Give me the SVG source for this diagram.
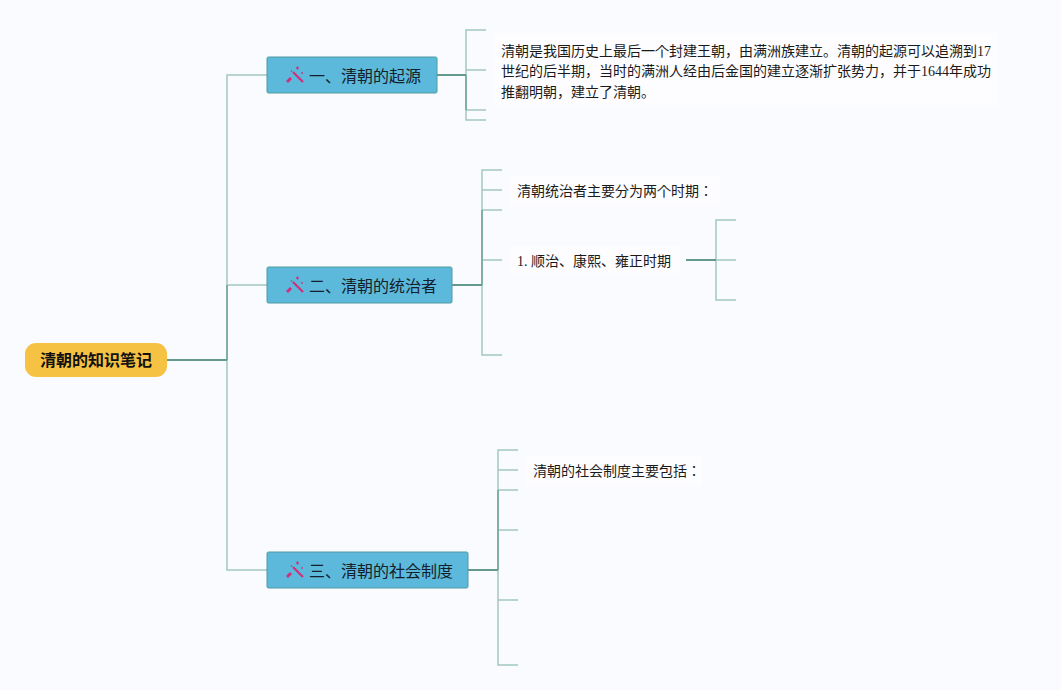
<svg xmlns="http://www.w3.org/2000/svg" width="1061" height="690" viewBox="0 0 1061 690">
<style>
text{font-family:"Liberation Serif","Noto Sans CJK JP",sans-serif;fill:#1a1a1a}
.body{font-size:14px}
.topic{font-size:16px;font-family:"Noto Sans CJK JP","Liberation Sans",sans-serif;fill:#14202a}
.root{font-size:16px;font-weight:700;font-family:"Noto Sans CJK JP","Liberation Sans",sans-serif;fill:#111}
.lt{fill:none;stroke:#a3c8c0;stroke-width:1.5}
.md{fill:none;stroke:#7fb0a5;stroke-width:2}
.dk{fill:none;stroke:#64998e;stroke-width:2}
.box{fill:#5cb9dc;stroke:#4f9a9f;stroke-width:1}
.pad{fill:#fdfdff}
</style>
<defs>
<g id="wand" fill="#d0307a">
<path d="M7 6L17 16" stroke="#d0307a" stroke-width="2.200" fill="none"/>
<path d="M0 15L4 11L6 13L2 17Z"/>
<path d="M11.500 0L13 2L11.500 4L10 2Z"/>
<circle cx="16" cy="7" r="0.900"/>
<circle cx="5.500" cy="5" r="0.800"/>
</g>
</defs>
<rect width="1061" height="690" fill="#fafbff"/>
<g id="connectors">
<path class="lt" d="M267 75H227V570H267M227 285H267"/>
<path class="md" d="M227 360V285"/>
<path class="dk" d="M167 360H227"/>
<path class="lt" d="M486 30H466V120H486M466 70H486M466 110H486"/>
<path class="md" d="M466 75V110"/>
<path class="dk" d="M437 75H466"/>
<path class="lt" d="M502 170H482V355H502M482 190H502M482 210H502M482 260H502"/>
<path class="md" d="M482 285V210"/>
<path class="dk" d="M452 285H482"/>
<path class="lt" d="M736 220H716V300H736M716 260H736"/>
<path class="dk" d="M686 260H716"/>
<path class="lt" d="M518 450H498V665H518M498 470H518M498 490H518M498 530H518M498 600H518"/>
<path class="md" d="M498 570V490"/>
<path class="dk" d="M468 570H498"/>
</g>
<g id="root">
<rect x="25" y="343" width="142" height="34" rx="11" fill="#f6c244"/>
<text class="root" x="96" y="366" text-anchor="middle">清朝的知识笔记</text>
</g>
<g id="topic1">
<rect class="box" x="267" y="57" width="170" height="36" rx="1.500"/>
<use href="#wand" x="286" y="66"/>
<text class="topic" x="309" y="82">一、清朝的起源</text>
</g>
<g id="topic2">
<rect class="box" x="267" y="267" width="185" height="36" rx="1.500"/>
<use href="#wand" x="286" y="276"/>
<text class="topic" x="309" y="292">二、清朝的统治者</text>
</g>
<g id="topic3">
<rect class="box" x="267" y="552" width="201" height="36" rx="1.500"/>
<use href="#wand" x="286" y="561"/>
<text class="topic" x="309" y="577">三、清朝的社会制度</text>
</g>
<g id="origin-text">
<rect class="pad" x="494" y="33" width="504" height="74"/>
<text class="body" x="501" y="56">清朝是我国历史上最后一个封建王朝，由满洲族建立。清朝的起源可以追溯到17</text>
<text class="body" x="501" y="76">世纪的后半期，当时的满洲人经由后金国的建立逐渐扩张势力，并于1644年成功</text>
<text class="body" x="501" y="97">推翻明朝，建立了清朝。</text>
</g>
<g id="ruler-text">
<rect class="pad" x="510" y="176" width="210" height="29"/>
<text class="body" x="517" y="196">清朝统治者主要分为两个时期：</text>
</g>
<g id="period-text">
<rect class="pad" x="510" y="246" width="170" height="29"/>
<text class="body" x="517" y="266">1. 顺治、康熙、雍正时期</text>
</g>
<g id="society-text">
<rect class="pad" x="526" y="456" width="176" height="29"/>
<text class="body" x="533" y="476">清朝的社会制度主要包括：</text>
</g>
</svg>
